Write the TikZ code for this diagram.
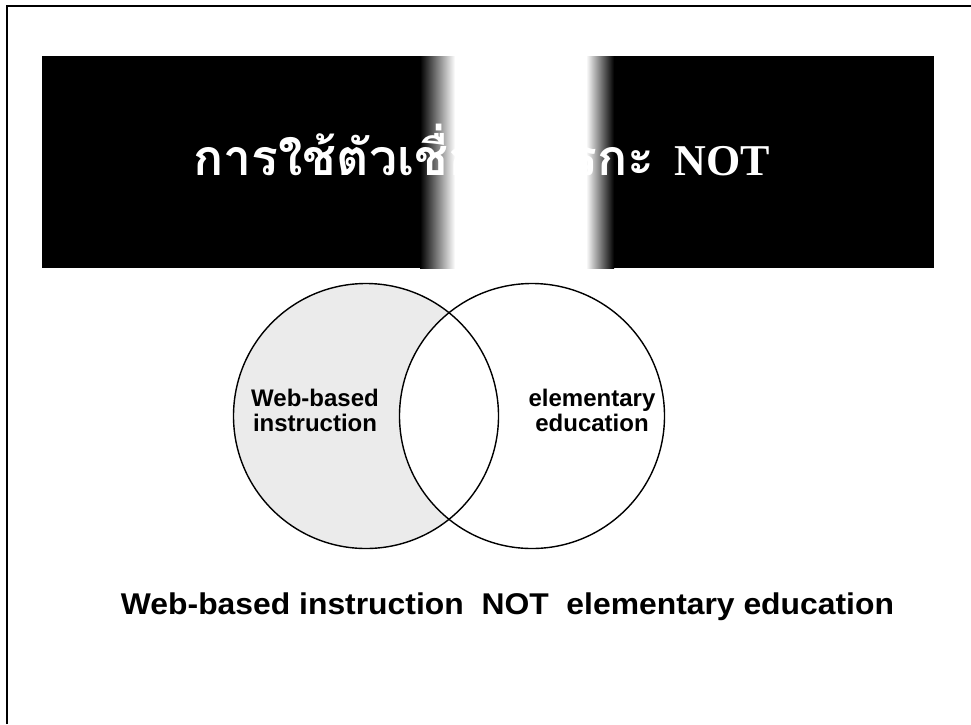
\documentclass[tikz,border=0pt]{standalone}
\usepackage{fontspec}
\setmainfont{Liberation Sans}
\newfontfamily\thaifont[Script=Thai]{Loma}
\newfontfamily\titleserif{Liberation Serif}
\tikzset{
  setcircle/.style={circle, draw=black, line width=1.4pt, minimum size=265pt, inner sep=0pt},
  setlabel/.style={font=\bfseries\fontsize{24}{25}\selectfont, align=center, inner sep=0pt},
  titletext/.style={text=white, inner sep=0pt},
}
\begin{document}
\begin{tikzpicture}[x=1pt,y=-1pt]
\useasboundingbox (0,0) rectangle (971,724);
% frame
\draw[line width=2pt] (7,724) -- (7,6) -- (971,6);
% title bar
\fill[black] (42,56) rectangle (420,268);
\shade[left color=black, right color=white] (420,56) rectangle (455,268);
\fill[white] (455,56) rectangle (586,268);
\shade[left color=white, right color=black] (586,56) rectangle (614,268);
\fill[black] (614,56) rectangle (934,268);
\node[titletext, anchor=base west] (thai) at (193,175)
  {\thaifont\bfseries\fontsize{50}{54}\selectfont การใช้ตัวเชื่อมตรรกะ};
\node[titletext, anchor=base east] (not) at (770,175)
  {\titleserif\bfseries\fontsize{44}{48}\selectfont NOT};
% venn
\coordinate (cl) at (366,416);
\coordinate (cr) at (532,416);
\fill[black!8] (cl) circle[radius=132.5];
\begin{scope}
  \clip (cr) circle[radius=133];
  \fill[white] (cl) circle[radius=132.5];
\end{scope}
\node[setcircle] (web) at (cl) {};
\node[setcircle] (elem) at (cr) {};
\node[setlabel] (weblabel) at (315,410) {Web-based\\instruction};
\node[setlabel] (elemlabel) at (592,410) {elementary\\education};
% caption
\node[font=\bfseries\fontsize{30}{32}\selectfont, anchor=base, inner sep=0pt] (caption) at (507.5,614)
  {\scalebox{1.062}[1]{Web-based instruction\ \ NOT\ \ elementary education}};
\end{tikzpicture}
\end{document}
